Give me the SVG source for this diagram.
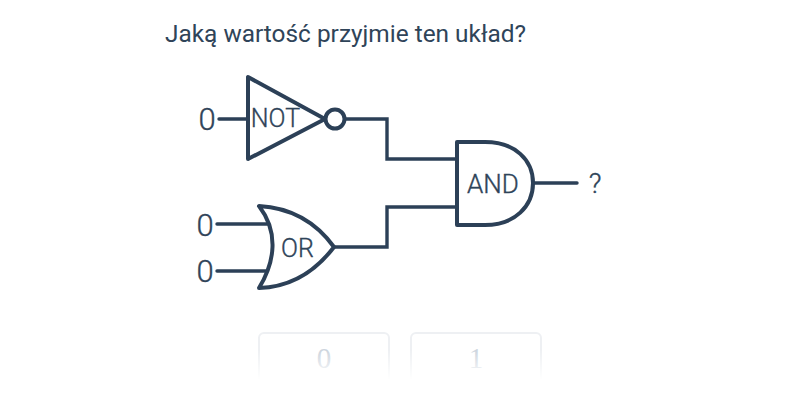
<svg xmlns="http://www.w3.org/2000/svg" width="800" height="400" viewBox="0 0 800 400">
<defs>
<linearGradient id="fade" x1="0" y1="0" x2="0" y2="1"><stop offset="0" stop-color="#fff" stop-opacity="0"/><stop offset="1" stop-color="#fff"/></linearGradient>
</defs>
<style>
text{font-family:Roboto,"Liberation Sans",sans-serif;fill:#2f4459}
.w{fill:none;stroke:#2c4057;stroke-width:3.4;stroke-linejoin:miter;stroke-linecap:round}
.g{fill:#fff;stroke:#2c4057;stroke-width:4;stroke-linejoin:round}
.t{font-weight:300;text-anchor:middle;stroke:#2f4459;stroke-width:.35}
.d{font-weight:300;text-anchor:middle;font-size:31px;stroke:#2f4459;stroke-width:.35}
.b{fill:#fff;stroke:#eef0f3;stroke-width:2}
.o{font-size:29px;font-family:"Liberation Serif",serif;fill:#cdd5de;text-anchor:middle}
</style>
<rect width="800" height="400" fill="#fff"/>
<text id="title" x="165" y="42" font-size="24.4">Jaką wartość przyjmie ten układ?</text>
<g id="connectors">
<path class="w" d="M219 119H248"/>
<path class="w" d="M346 119H387V159H457"/>
<path class="w" d="M217 224H270"/>
<path class="w" d="M217 271H270"/>
<path class="w" d="M334 247H387V207H457"/>
<path class="w" d="M534 183H577"/>
</g>
<g id="not"><path class="g" d="M248 77V159L325 119Z"/><circle class="g" cx="335" cy="119" r="9.5"/><text class="t" x="275.500" y="127" font-size="25">NOT</text></g>
<g id="or"><path class="g" d="M259 206C295 208 318 225 334 247C318 268 295 287 259 288C275 262 279 232 259 206Z"/><text class="t" x="297.500" y="257" font-size="25">OR</text></g>
<g id="and"><path class="g" d="M457 142H485C515 142 533 160 533 183C533 206 515 225 485 225H457Z"/><text class="t" x="493" y="193" font-size="26">AND</text></g>
<g id="in0"><text class="d" x="207" y="130">0</text></g>
<g id="in1"><text class="d" x="205" y="236">0</text></g>
<g id="in2"><text class="d" x="205" y="282">0</text></g>
<g id="out"><text class="t" x="595" y="193" font-size="28">?</text></g>
<g id="opt0"><rect class="b" x="259" y="333" width="130" height="60" rx="5"/><text class="o" x="324" y="368">0</text></g>
<g id="opt1"><rect class="b" x="411" y="333" width="130" height="60" rx="5"/><text class="o" x="476" y="368">1</text></g>
<rect x="250" y="350" width="300" height="30" fill="url(#fade)"/>
<rect x="250" y="379" width="300" height="21" fill="#fff"/>
</svg>
